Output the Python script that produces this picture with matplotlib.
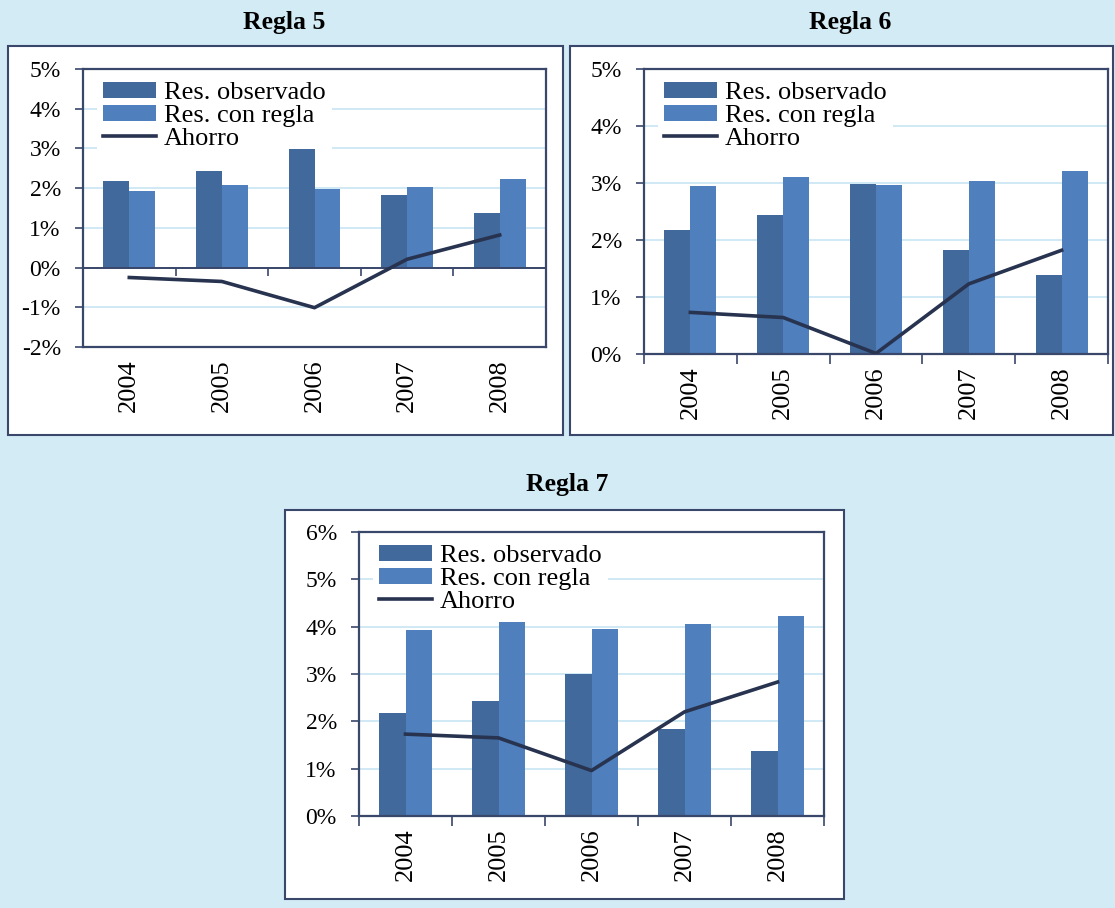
"""Resultado fiscal observado vs. con regla, y ahorro implícito (Reglas 5, 6 y 7)."""
import matplotlib
matplotlib.use("Agg")
import matplotlib.pyplot as plt
import numpy as np
from matplotlib.patches import Rectangle
from matplotlib.ticker import FuncFormatter

plt.rcParams["font.family"] = ["Liberation Serif", "DejaVu Serif"]

W, H = 1115, 908
BG = "#d3ebf5"
C_OBS = "#41699b"
C_REGLA = "#4f7fbd"
C_AHORRO = "#283350"
C_SPINE = "#38476a"
C_GRID = "#c4e3f1"

years = ["2004", "2005", "2006", "2007", "2008"]
observado = [2.18, 2.43, 2.99, 1.83, 1.38]

regla5_con = [1.92, 2.08, 1.97, 2.03, 2.22]
regla5_ahorro = [-0.25, -0.35, -1.01, 0.21, 0.82]

regla6_con = [2.95, 3.10, 2.96, 3.03, 3.21]
regla6_ahorro = [0.73, 0.64, 0.01, 1.23, 1.82]

regla7_con = [3.92, 4.09, 3.96, 4.05, 4.22]
regla7_ahorro = [1.73, 1.65, 0.96, 2.20, 2.83]


def px_rect(x0, y0, x1, y1):
    return [x0 / W, 1 - y1 / H, (x1 - x0) / W, (y1 - y0) / H]


def panel(fig, box, axbox, title, title_xy, ylim, con_regla, ahorro):
    # white frame behind each chart
    bx0, by0, bx1, by1 = box
    fig.patches.append(Rectangle((bx0 / W, 1 - by1 / H), (bx1 - bx0) / W, (by1 - by0) / H,
                                 transform=fig.transFigure, facecolor="white",
                                 edgecolor=C_SPINE, linewidth=1.5, zorder=-5))
    fig.text(title_xy[0] / W, 1 - title_xy[1] / H, title, ha="center", va="center",
             fontsize=18.5, fontweight="bold")

    ax = fig.add_axes(px_rect(*axbox))
    ax.set_zorder(1)
    x = np.arange(len(years))
    bw = 0.28
    b1 = ax.bar(x - bw / 2, observado, bw, color=C_OBS, zorder=2)
    b2 = ax.bar(x + bw / 2, con_regla, bw, color=C_REGLA, zorder=2)
    (ln,) = ax.plot(x, ahorro, color=C_AHORRO, lw=2.6, zorder=3)

    ax.set_xlim(-0.5, len(years) - 0.5)
    ax.set_ylim(*ylim)
    ax.set_yticks(np.arange(ylim[0], ylim[1] + 1))
    ax.yaxis.set_major_formatter(FuncFormatter(lambda v, _: f"{v:.0f}%"))
    ax.yaxis.grid(True, color=C_GRID, lw=1.1, zorder=0)
    ax.set_axisbelow(True)
    ax.tick_params(axis="y", direction="out", length=6, width=1.2, color=C_SPINE,
                   labelsize=17, pad=10)

    # category boundaries as major ticks, year labels on minor ticks
    ax.set_xticks(np.arange(-0.5, len(years)), labels=[])
    ax.set_xticks(x, labels=years, minor=True)
    ax.tick_params(axis="x", which="minor", length=0, labelsize=19, rotation=90, pad=9)
    for sp in ax.spines.values():
        sp.set_color(C_SPINE)
        sp.set_linewidth(1.6)

    if ylim[0] < 0:
        ax.tick_params(axis="x", which="major", length=0)
        ax.axhline(0, color=C_SPINE, lw=1.4, zorder=2.5)
        sec = ax.secondary_xaxis(-ylim[0] / (ylim[1] - ylim[0]))
        sec.set_xticks(np.arange(-0.5, len(years)), labels=[])
        sec.tick_params(direction="out", length=6, width=1.2, color=C_SPINE)
        sec.spines["bottom"].set_visible(False)
    else:
        ax.tick_params(axis="x", which="major", direction="out", length=7, width=1.2,
                       color=C_SPINE)

    leg = ax.legend([b1, b2, ln], ["Res. observado", "Res. con regla", "Ahorro"],
                    loc="upper left", bbox_to_anchor=(0.015, 1.0), fontsize=19,
                    frameon=True, fancybox=False, framealpha=1, edgecolor="white",
                    handlelength=2.0, handleheight=0.55, handletextpad=0.3,
                    labelspacing=0.02, borderpad=0.25, borderaxespad=0.25)
    leg.get_frame().set_linewidth(0)
    # legend box hides the gridlines but sits under the bars
    leg.set_zorder(1)
    return ax


fig = plt.figure(figsize=(W / 100, H / 100), dpi=100, facecolor=BG)

fig.text(567 / W, 1 + 12 / H, "(% del PIB)", ha="center", va="center", fontsize=15)

panel(fig, (8, 46, 563, 435), (83, 69, 546, 347), "Regla 5", (284, 22),
      (-2, 5), regla5_con, regla5_ahorro)
panel(fig, (570, 46, 1113, 435), (644, 69, 1108, 354), "Regla 6", (850, 22),
      (0, 5), regla6_con, regla6_ahorro)
panel(fig, (285, 510, 844, 899), (359, 532, 824, 816), "Regla 7", (567, 485),
      (0, 6), regla7_con, regla7_ahorro)

fig.savefig("out.png", dpi=100, facecolor=BG)
